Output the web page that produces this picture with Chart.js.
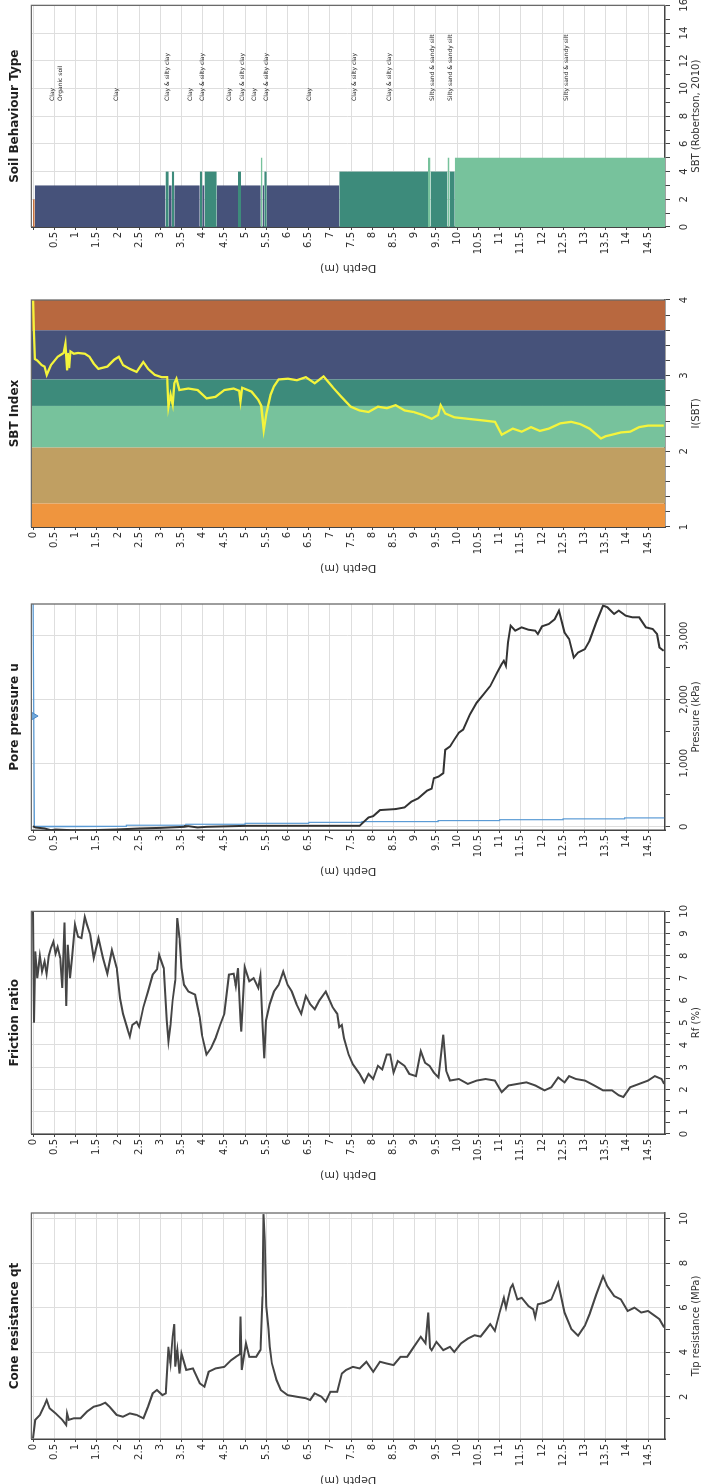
<!DOCTYPE html>
<html>
<head>
<meta charset="utf-8">
<script src="https://cdn.jsdelivr.net/npm/chart.js@4/dist/chart.umd.min.js"></script>
<style>
  html, body { margin: 0; padding: 0; background: #fff; }
  body { width: 704px; height: 1484px; overflow: hidden; position: relative; }
  /* the logs are drawn upright (depth down) and the whole strip is turned a quarter left */
  #wrap { position: absolute; left: 0; top: 0; width: 1484px; height: 704px; overflow: hidden;
          transform-origin: 0 0; transform: translate(0, 1484px) rotate(-90deg); background: #fff; }
  #wrap canvas { position: absolute; top: 0; }
</style>
</head>
<body>
<div id="wrap">
  <canvas id="cQt"></canvas>
  <canvas id="cRf"></canvas>
  <canvas id="cU"></canvas>
  <canvas id="cIc"></canvas>
  <canvas id="cSbt"></canvas>
</div>
<script>
// ---- depth axis (m), shared by the five logs
const depthTicks = [0, 0.5, 1, 1.5, 2, 2.5, 3, 3.5, 4, 4.5, 5, 5.5, 6, 6.5, 7, 7.5, 8, 8.5, 9, 9.5,
                    10, 10.5, 11, 11.5, 12, 12.5, 13, 13.5, 14, 14.5];

// ---- Cone resistance qt (MPa)
const qtDepth = [0, 0.05, 0.16, 0.27, 0.32, 0.39, 0.53, 0.69, 0.78, 0.8, 0.84, 0.96, 1.12, 1.27, 1.43, 1.59, 1.7, 1.8, 1.97,
  2.12, 2.28, 2.44, 2.6, 2.71, 2.82, 2.92, 3.05, 3.13, 3.19, 3.24, 3.29, 3.33, 3.35, 3.4, 3.45, 3.5, 3.61, 3.77, 3.93,
  4.04, 4.14, 4.3, 4.51, 4.67, 4.78, 4.87, 4.89, 4.92, 5.02, 5.1, 5.26, 5.36, 5.41, 5.43, 5.46, 5.5, 5.55, 5.58, 5.63,
  5.74, 5.84, 6.0, 6.21, 6.43, 6.53, 6.64, 6.8, 6.9, 7.01, 7.17, 7.28, 7.38, 7.54, 7.7, 7.86, 8.02, 8.18, 8.34, 8.5,
  8.66, 8.82, 8.98, 9.14, 9.25, 9.32, 9.36, 9.4, 9.51, 9.67, 9.83, 9.93, 10.09, 10.25, 10.41, 10.55, 10.67, 10.78,
  10.89, 11.0, 11.1, 11.15, 11.26, 11.31, 11.42, 11.52, 11.68, 11.79, 11.84, 11.9, 12.06, 12.22, 12.38, 12.53, 12.69,
  12.85, 13.01, 13.12, 13.28, 13.44, 13.54, 13.7, 13.86, 14.02, 14.18, 14.34, 14.5, 14.66, 14.77, 14.88];
const qtValue = [0.13, 0.96, 1.18, 1.63, 1.85, 1.48, 1.25, 0.96, 0.73, 1.25, 0.96, 1.03, 1.03, 1.33, 1.55, 1.63, 1.73, 1.55, 1.18,
  1.1, 1.25, 1.18, 1.03, 1.55, 2.15, 2.3, 2.07, 2.15, 4.24, 3.5, 4.7, 5.26, 3.35, 4.1, 3.04, 3.94, 3.2, 3.27, 2.6,
  2.45, 3.12, 3.27, 3.34, 3.64, 3.79, 3.9, 5.6, 3.2, 4.4, 3.79, 3.79, 4.1, 6.5, 10.2, 9.0, 6.07, 5.04, 4.24, 3.5,
  2.75, 2.3, 2.07, 2.0, 1.93, 1.85, 2.15, 2.0, 1.78, 2.22, 2.22, 3.04, 3.2, 3.34, 3.27, 3.57, 3.12, 3.57, 3.49, 3.42,
  3.79, 3.79, 4.24, 4.69, 4.4, 5.78, 4.2, 4.09, 4.46, 4.09, 4.24, 4.01, 4.39, 4.61, 4.76, 4.7, 4.99, 5.26,
  4.96, 5.78, 6.44, 6.0, 6.89, 7.04, 6.37, 6.44, 6.07, 5.93, 5.56, 6.15, 6.22, 6.37, 7.11, 5.78, 5.04,
  4.74, 5.19, 5.7, 6.59, 7.41, 6.96, 6.52, 6.37, 5.85, 6.0, 5.78, 5.85, 5.63, 5.48, 5.11];
const qtTicks = [2, 4, 6, 8, 10];
const qtMinor = [1, 3, 5, 7, 9];

// ---- Friction ratio Rf (%)
const rfDepth = [0, 0.02, 0.05, 0.1, 0.16, 0.21, 0.27, 0.32, 0.37, 0.42, 0.48, 0.53, 0.58, 0.64, 0.69, 0.74, 0.78, 0.82, 0.87,
  0.92, 0.99, 1.06, 1.14, 1.22, 1.27, 1.35, 1.43, 1.54, 1.65, 1.75, 1.86, 1.97, 2.05, 2.12, 2.23, 2.28, 2.34, 2.44, 2.5,
  2.6, 2.71, 2.82, 2.92, 2.97, 3.08, 3.15, 3.19, 3.24, 3.29, 3.35, 3.4, 3.45, 3.5, 3.56, 3.66, 3.82, 3.93, 3.98, 4.09,
  4.2, 4.3, 4.41, 4.51, 4.62, 4.73, 4.78, 4.83, 4.89, 4.91, 4.99, 5.1, 5.2, 5.31, 5.36, 5.41, 5.45, 5.49, 5.58, 5.68,
  5.79, 5.9, 6.0, 6.1, 6.21, 6.32, 6.43, 6.53, 6.64, 6.75, 6.9, 7.06, 7.17, 7.22, 7.28, 7.33, 7.44, 7.54, 7.7, 7.81,
  7.91, 8.02, 8.13, 8.23, 8.34, 8.42, 8.5, 8.6, 8.76, 8.87, 9.03, 9.14, 9.24, 9.35, 9.45, 9.56, 9.67, 9.74, 9.83,
  10.04, 10.25, 10.46, 10.67, 10.89, 11.05, 11.21, 11.42, 11.63, 11.84, 12.06, 12.22, 12.38, 12.53, 12.64, 12.8,
  13.01, 13.23, 13.44, 13.65, 13.81, 13.92, 14.08, 14.29, 14.5, 14.66, 14.82, 14.88];
const rfValue = [10, 5.0, 8.2, 7.0, 8.0, 7.3, 7.75, 7.2, 8.0, 8.35, 8.64, 8.1, 8.4, 7.9, 6.56, 9.5, 5.75, 8.5, 7.0,
  7.9, 9.4, 8.86, 8.8, 9.75, 9.4, 8.94, 7.9, 8.8, 7.9, 7.2, 8.26, 7.45, 6.1, 5.4, 4.68, 4.38, 4.9, 5.04, 4.82,
  5.7, 6.4, 7.16, 7.4, 8.05, 7.45, 5.1, 4.16, 4.9, 6.0, 6.9, 9.7, 8.8, 7.45, 6.7, 6.4, 6.26, 5.24, 4.46, 3.57,
  3.87, 4.3, 4.9, 5.4, 7.16, 7.2, 6.65, 7.45, 5.1, 4.6, 7.5, 6.86, 7.0, 6.56, 7.1, 4.95, 3.4, 5.1, 5.84, 6.4,
  6.7, 7.3, 6.7, 6.4, 5.84, 5.4, 6.2, 5.84, 5.6, 6.0, 6.4, 5.7, 5.4, 4.8, 4.9, 4.3, 3.57, 3.13, 2.7, 2.32,
  2.7, 2.47, 3.06, 2.9, 3.57, 3.57, 2.76, 3.28, 3.06, 2.7, 2.6, 3.72, 3.2, 3.06, 2.76, 2.54, 4.46, 2.84, 2.4,
  2.47, 2.25, 2.4, 2.47, 2.4, 1.88, 2.18, 2.25, 2.32, 2.18, 1.96, 2.1, 2.54, 2.32, 2.6, 2.47,
  2.4, 2.18, 1.96, 1.96, 1.74, 1.66, 2.1, 2.25, 2.4, 2.6, 2.47, 2.25];
const rfTicks = [0, 1, 2, 3, 4, 5, 6, 7, 8, 9, 10];
const rfMinor = [0.5, 1.5, 2.5, 3.5, 4.5, 5.5, 6.5, 7.5, 8.5, 9.5];

// ---- Pore pressure u2 and hydrostatic u0 (kPa)
const uDepth = [0, 0.05, 0.27, 0.42, 0.53, 0.9, 1.33, 1.97, 2.5, 3.03, 3.56, 3.66, 3.88, 4.09, 5.05, 6.64, 7.7, 7.8,
  7.91, 8.02, 8.18, 8.55, 8.76, 8.92, 9.08, 9.29, 9.4, 9.45, 9.56, 9.67, 9.72, 9.83, 9.93, 10.04, 10.14, 10.3,
  10.46, 10.62, 10.78, 10.94, 11.05, 11.1, 11.15, 11.2, 11.26, 11.37, 11.52, 11.68, 11.84, 11.9, 12.0, 12.16,
  12.3, 12.4, 12.53, 12.64, 12.75, 12.85, 13.01, 13.12, 13.28, 13.44, 13.54, 13.7, 13.81, 13.97, 14.13, 14.29,
  14.45, 14.61, 14.71, 14.77, 14.87];
const uValue = [10, -10, -26, -53, -42, -53, -53, -42, -26, -16, 0, 10, -10, 0, 16, 16, 16, 79,
  147, 168, 263, 279, 305, 395, 447, 568, 600, 763, 789, 842, 1210, 1263, 1368, 1480, 1527, 1764,
  1949, 2080, 2212, 2423, 2555, 2607, 2528, 2897, 3159, 3081, 3133, 3096, 3081, 3028, 3149, 3186,
  3260, 3395, 3054, 2949, 2659, 2738, 2791, 2923, 3212, 3475, 3449, 3344, 3396, 3317, 3291, 3291,
  3133, 3107, 3028, 2817, 2765];
const u0Depth = [0, 0.03, 1.0, 1.0, 2.2, 2.2, 3.6, 3.6, 5.0, 5.0, 6.5, 6.5, 7.75, 7.75, 9.55, 9.55, 11.0, 11.0,
  12.5, 12.5, 13.95, 13.95, 14.88];
const u0Value = [3500, 0, 0, 12, 12, 25, 25, 40, 40, 55, 55, 70, 70, 82, 82, 98, 98, 112,
  112, 125, 125, 140, 140];
const waterDepth = [0];
const waterMark = [1740];
const uTicks = [0, 1000, 2000, 3000];
const uMinor = [500, 1500, 2500];

// ---- SBT index Ic
const icDepth = [0, 0.02, 0.04, 0.1, 0.2, 0.27, 0.32, 0.42, 0.58, 0.72, 0.76, 0.8, 0.82, 0.85, 0.88, 0.96, 1.06, 1.22,
  1.33, 1.43, 1.54, 1.75, 1.91, 2.02, 2.12, 2.28, 2.44, 2.6, 2.71, 2.87, 3.03, 3.16, 3.19, 3.24, 3.29, 3.33, 3.38,
  3.45, 3.66, 3.88, 4.09, 4.3, 4.51, 4.73, 4.86, 4.89, 4.93, 5.15, 5.31, 5.38, 5.44, 5.5, 5.6, 5.68, 5.79, 6.01,
  6.22, 6.43, 6.64, 6.85, 7.06, 7.27, 7.49, 7.7, 7.91, 8.13, 8.34, 8.55, 8.76, 8.97, 9.19, 9.4, 9.55, 9.61, 9.72,
  9.93, 10.25, 10.58, 10.89, 11.05, 11.31, 11.52, 11.74, 11.95, 12.16, 12.43, 12.69, 12.9, 13.12, 13.39, 13.5,
  13.65, 13.86, 14.08, 14.29, 14.5, 14.87];
const icValue = [4.0, 3.6, 3.22, 3.2, 3.14, 3.12, 3.01, 3.14, 3.25, 3.3, 3.42, 3.07, 3.3, 3.1, 3.32, 3.29, 3.3, 3.29,
  3.25, 3.16, 3.09, 3.12, 3.21, 3.25, 3.14, 3.09, 3.05, 3.18, 3.09, 3.01, 2.98, 2.98, 2.59, 2.75, 2.62, 2.9, 2.96,
  2.81, 2.83, 2.81, 2.7, 2.72, 2.81, 2.83, 2.8, 2.66, 2.84, 2.79, 2.68, 2.6, 2.28, 2.5, 2.75, 2.86, 2.95, 2.96,
  2.94, 2.98, 2.9, 2.99, 2.85, 2.72, 2.59, 2.54, 2.52, 2.59, 2.57, 2.61, 2.54, 2.52, 2.48, 2.43, 2.48, 2.61, 2.5,
  2.45, 2.43, 2.41, 2.39, 2.22, 2.3, 2.26, 2.32, 2.27, 2.3, 2.37, 2.39, 2.36, 2.3, 2.17, 2.2,
  2.22, 2.25, 2.26, 2.32, 2.34, 2.34];
const icZoneFrom = [1, 1.31, 2.05, 2.6, 2.95, 3.6];
const icZoneTo = [1.31, 2.05, 2.6, 2.95, 3.6, 4];
const icTicks = [1, 2, 3, 4];
const icMinor = [1.2, 1.4, 1.6, 1.8, 2.2, 2.4, 2.6, 2.8, 3.2, 3.4, 3.6, 3.8];

// ---- Soil behaviour type (Robertson 2010)
const layerTop = [0, 0.04, 3.12, 3.2, 3.27, 3.33, 3.93, 3.99, 4.04, 4.33, 4.83, 4.9, 5.37, 5.41, 5.45, 5.51,
  7.22, 9.31, 9.37, 9.77, 9.82, 9.94];
const layerBottom = [0.04, 3.12, 3.2, 3.27, 3.33, 3.93, 3.99, 4.04, 4.33, 4.83, 4.9, 5.37, 5.41, 5.45, 5.51, 7.22,
  9.31, 9.37, 9.77, 9.82, 9.94, 14.9];
const layerZone = [2, 3, 4, 3, 4, 3, 4, 3, 4, 3, 4, 3, 5, 3, 4, 3, 4, 5, 4, 5, 4, 5];
const labelDepth = [0.45, 0.64, 1.96, 3.17, 3.72, 4.0, 4.64, 4.93, 5.21, 5.51, 6.51, 7.57, 8.41, 9.41, 9.84, 12.58];
const labelText = ['Clay', 'Organic soil', 'Clay', 'Clay & silty clay', 'Clay', 'Clay & silty clay', 'Clay',
  'Clay & silty clay', 'Clay', 'Clay & silty clay', 'Clay', 'Clay & silty clay', 'Clay & silty clay',
  'Silty sand & sandy silt', 'Silty sand & sandy silt', 'Silty sand & sandy silt'];
const sbtTicks = [0, 2, 4, 6, 8, 10, 12, 14, 16];
const sbtMinor = [1, 3, 5, 7, 9, 11, 13, 15];

// ---- styles
const zoneColor = { 2: '#c4703f', 3: '#46527a', 4: '#3d8b7b', 5: '#77c29c' };
const icZoneColor = ['#ef953e', '#c09f62', '#77c29c', '#3d8b7b', '#46527a', '#b8683f'];
const LINE = '#454545';

Chart.defaults.font.family = '"DejaVu Sans", Verdana, sans-serif';
Chart.defaults.color = '#333';

const AXIS_W = 48;     // width of the depth axis block
const PAD_R = 12;
const PLOT_BOTTOM = 665;

function pts(depth, val) {
  return depth.map((d, i) => ({ x: val[i], y: d }));
}

// top and right edge of the plot frame
const framePlugin = {
  id: 'frame',
  afterDraw(chart) {
    const a = chart.chartArea, ctx = chart.ctx;
    ctx.save();
    ctx.strokeStyle = '#6a6a6a';
    ctx.lineWidth = 1.3;
    ctx.beginPath();
    ctx.moveTo(a.left, a.top);
    ctx.lineTo(a.right, a.top);
    ctx.lineTo(a.right, a.bottom);
    ctx.stroke();
    ctx.restore();
  }
};

// layer names written beside the SBT column
const sbtLabelPlugin = {
  id: 'sbtLabels',
  afterDatasetsDraw(chart) {
    const { ctx, scales: { x, y } } = chart;
    ctx.save();
    ctx.font = '6px "DejaVu Sans"';
    ctx.fillStyle = '#222';
    ctx.textAlign = 'left';
    ctx.textBaseline = 'middle';
    labelText.forEach((t, i) => {
      ctx.fillText(t, x.getPixelForValue(9.1), y.getPixelForValue(labelDepth[i]));
    });
    ctx.restore();
  }
};

function makeLog(id, plotLeft, plotWidth, cfg) {
  const canvas = document.getElementById(id);
  canvas.width = AXIS_W + plotWidth + PAD_R;
  canvas.height = 704;
  canvas.style.left = (plotLeft - AXIS_W) + 'px';
  const majors = new Set(cfg.ticks);
  const gridColor = cfg.gridColor || '#dedede';
  return new Chart(canvas, {
    type: 'line',
    data: { datasets: cfg.datasets },
    options: {
      indexAxis: 'y',
      responsive: false,
      animation: false,
      events: [],
      layout: { padding: { right: PAD_R } },
      plugins: {
        legend: { display: false },
        tooltip: { enabled: false },
        title: {
          display: true, text: cfg.title, fullSize: false, color: '#1e1e1e',
          font: { size: 12, weight: 'bold' }, padding: { top: 8, bottom: 9 }
        }
      },
      scales: {
        y: {
          type: 'linear', position: 'left', reverse: true, min: -0.04, max: 14.9,
          afterBuildTicks: s => { s.ticks = depthTicks.map(v => ({ value: v })); },
          afterFit: s => { s.width = AXIS_W; },
          ticks: {
            autoSkip: false, padding: 2, font: { size: 10 },
            callback: v => (cfg.hideZero && v === 0) ? '' : String(v)
          },
          grid: { color: gridColor, tickColor: '#444', tickLength: 3 },
          border: { color: '#444', width: 1.5 },
          title: { display: true, text: 'Depth (m)', font: { size: 11 }, padding: { top: 1, bottom: 0 } },
          z: cfg.gridOnTop ? 1 : 0
        },
        x: {
          type: 'linear', position: 'bottom', min: cfg.min, max: cfg.max,
          afterBuildTicks: s => {
            s.ticks = cfg.ticks.concat(cfg.minor).sort((a, b) => a - b).map(v => ({ value: v }));
          },
          afterFit: s => { s.height = 704 - PLOT_BOTTOM; },
          ticks: {
            autoSkip: false, maxRotation: 0, minRotation: 0, padding: 8, font: { size: 10 },
            callback: v => majors.has(v) ? (cfg.fmt ? cfg.fmt(v) : String(v)) : ''
          },
          grid: {
            color: c => (c.tick && majors.has(c.tick.value)) ? gridColor : 'rgba(0,0,0,0)',
            tickColor: '#444', tickLength: 5
          },
          border: { color: '#444', width: 1.5 },
          title: { display: true, text: cfg.axisTitle, font: { size: 10 }, padding: { top: 0, bottom: 2 } },
          z: cfg.gridOnTop ? 1 : 0
        }
      }
    },
    plugins: [framePlugin].concat(cfg.plugins || [])
  });
}

// Cone resistance
makeLog('cQt', 45, 226, {
  title: 'Cone resistance qt', axisTitle: 'Tip resistance (MPa)',
  min: 0.1, max: 10.25, ticks: qtTicks, minor: qtMinor,
  datasets: [{ data: pts(qtDepth, qtValue), borderColor: LINE, borderWidth: 2, pointRadius: 0, fill: false }]
});

// Friction ratio
makeLog('cRf', 350, 225, {
  title: 'Friction ratio', axisTitle: 'Rf (%)',
  min: 0, max: 10, ticks: rfTicks, minor: rfMinor,
  datasets: [{ data: pts(rfDepth, rfValue), borderColor: LINE, borderWidth: 2, pointRadius: 0, fill: false }]
});

// Pore pressure
makeLog('cU', 654, 226, {
  title: 'Pore pressure u', axisTitle: 'Pressure (kPa)',
  min: -50, max: 3500, ticks: uTicks, minor: uMinor,
  fmt: v => v.toLocaleString('en-US'),
  datasets: [
    { data: pts(waterDepth, waterMark), showLine: false, pointStyle: 'triangle', rotation: 180, pointRadius: 5,
      backgroundColor: '#6fa8dc', borderColor: '#4a86c5', borderWidth: 1, order: 0 },
    { data: pts(uDepth, uValue), borderColor: '#333', borderWidth: 2, pointRadius: 0, fill: false, order: 1 },
    { data: pts(u0Depth, u0Value), borderColor: '#5b9bd5', borderWidth: 1.2, pointRadius: 0, fill: false, order: 2 }
  ]
});

// SBT index with Robertson zone bands behind it
const icDatasets = [{ data: pts(icDepth, icValue), borderColor: '#f4f43c', borderWidth: 2.3, pointRadius: 0, fill: false, order: 0 }];
icZoneFrom.forEach((from, i) => {
  icDatasets.push({
    data: [{ x: icZoneTo[i], y: -0.04 }, { x: icZoneTo[i], y: 14.9 }],
    borderWidth: 0, borderColor: 'rgba(0,0,0,0)', pointRadius: 0,
    backgroundColor: icZoneColor[i], fill: { value: from }, order: 1
  });
});
makeLog('cIc', 957, 227, {
  title: 'SBT Index', axisTitle: 'I(SBT)',
  min: 1, max: 4, ticks: icTicks, minor: icMinor,
  gridColor: 'rgba(255,255,255,0.28)', gridOnTop: true,
  datasets: icDatasets
});

// Soil behaviour type column
const sbtDatasets = layerTop.map((top, i) => ({
  data: [{ x: layerZone[i], y: top }, { x: layerZone[i], y: layerBottom[i] }],
  borderWidth: 0, borderColor: 'rgba(0,0,0,0)', pointRadius: 0,
  backgroundColor: zoneColor[layerZone[i]], fill: 'origin'
}));
makeLog('cSbt', 1257, 224, {
  title: 'Soil Behaviour Type', axisTitle: 'SBT (Robertson, 2010)',
  min: 0, max: 16, ticks: sbtTicks, minor: sbtMinor, hideZero: true,
  datasets: sbtDatasets,
  plugins: [sbtLabelPlugin]
});
</script>
</body>
</html>
